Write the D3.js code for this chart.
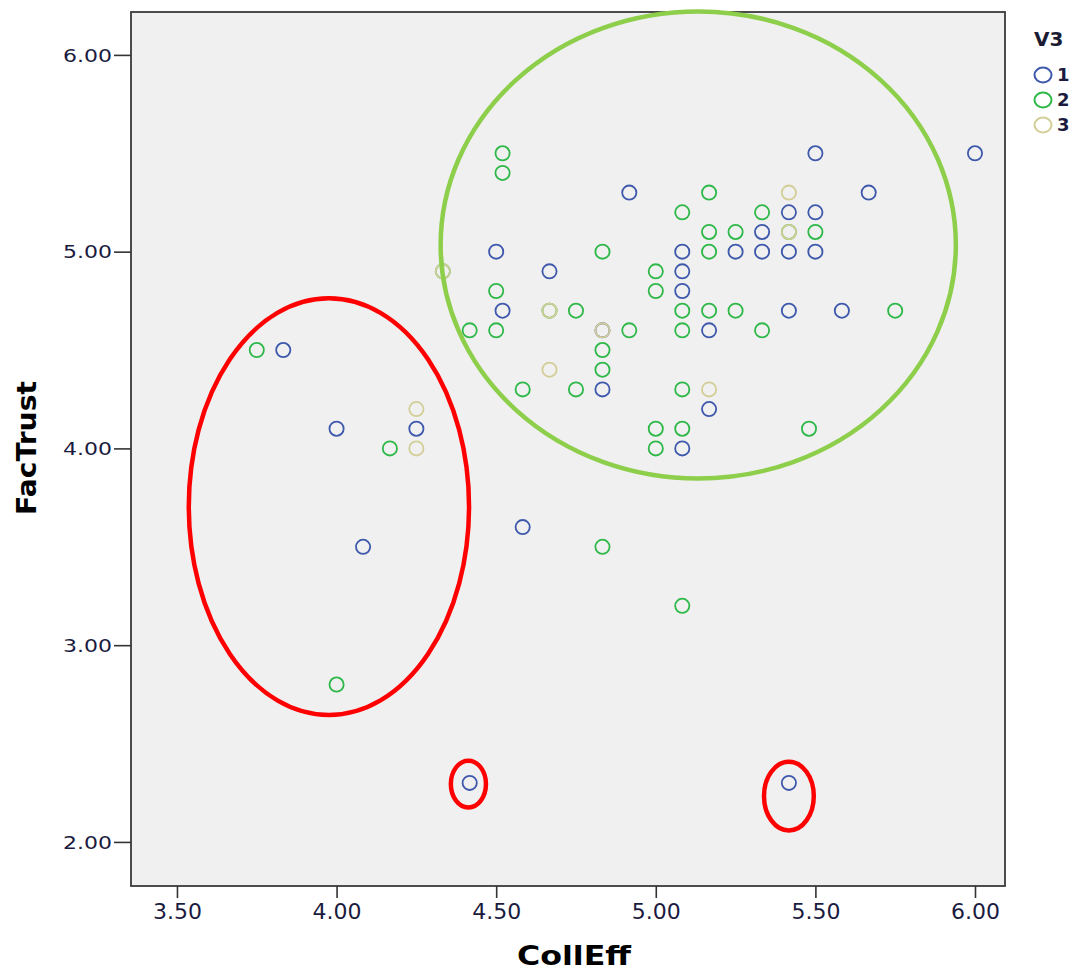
<!DOCTYPE html>
<html>
<head>
<meta charset="utf-8">
<script src="https://cdn.jsdelivr.net/npm/d3@7"></script>
<style>
  body { margin: 0; background: #fff; }
  svg { display: block; }
</style>
</head>
<body>
<div id="chart"></div>
<script>
// V3 = 1 (blue)
const group1 = [
  [3.833, 4.5], [4.0, 4.1], [4.25, 4.1], [4.083, 3.5], [4.417, 2.3], [5.417, 2.3], [4.583, 3.6],
  [4.917, 5.3], [4.5, 5.0], [5.083, 5.0], [4.667, 4.9], [5.083, 4.9], [5.083, 4.8], [4.52, 4.7],
  [5.5, 5.5], [6.0, 5.5], [5.667, 5.3], [5.417, 5.2], [5.5, 5.2], [5.333, 5.1], [5.25, 5.0],
  [5.333, 5.0], [5.417, 5.0], [5.5, 5.0], [5.417, 4.7], [5.583, 4.7], [5.167, 4.6], [4.833, 4.6],
  [4.833, 4.3], [5.167, 4.2], [5.083, 4.0]
];
// V3 = 2 (green)
const group2 = [
  [3.75, 4.5], [4.167, 4.0], [4.0, 2.8], [4.833, 3.5], [5.083, 3.2],
  [4.52, 5.5], [4.52, 5.4], [5.167, 5.3], [5.083, 5.2], [5.167, 5.1], [5.25, 5.1], [4.833, 5.0],
  [5.167, 5.0], [4.333, 4.9], [5.0, 4.9], [4.5, 4.8], [5.0, 4.8], [5.333, 5.2], [5.417, 5.1],
  [5.5, 5.1], [4.667, 4.7], [4.75, 4.7], [5.083, 4.7], [5.167, 4.7], [5.25, 4.7], [5.75, 4.7],
  [4.417, 4.6], [4.5, 4.6], [4.917, 4.6], [5.083, 4.6], [5.333, 4.6], [4.833, 4.5], [4.833, 4.4],
  [4.583, 4.3], [4.75, 4.3], [5.083, 4.3], [5.0, 4.1], [5.083, 4.1], [5.48, 4.1], [5.0, 4.0]
];
// V3 = 3 (tan)
const group3 = [
  [4.25, 4.2], [4.25, 4.0], [4.333, 4.9], [5.417, 5.3], [5.417, 5.1], [4.667, 4.7],
  [4.833, 4.6], [4.667, 4.4], [5.167, 4.3]
];

const groupNames = ["1", "2", "3"];
const groupColors = ["#3e58ac", "#2eb848", "#d3ce97"];

const xTicks = [3.5, 4.0, 4.5, 5.0, 5.5, 6.0];
const yTicks = [2.0, 3.0, 4.0, 5.0, 6.0];

// hand-drawn annotation ellipses, in data units: [cx, cy, rx, ry]
const greenRings = [[5.133, 5.034, 0.807, 1.187]];
const redRings = [
  [3.976, 3.704, 0.439, 1.059],
  [4.413, 2.294, 0.055, 0.119],
  [5.417, 2.233, 0.078, 0.175]
];

const W = 1076, H = 972;
const plot = { left: 131, right: 1005, top: 12, bottom: 886 };

const svg = d3.select("#chart")
  .append("svg")
  .attr("width", W)
  .attr("height", H);

const x = d3.scaleLinear().domain([3.356, 6.094]).range([plot.left, plot.right]);
const y = d3.scaleLinear().domain([1.776, 6.218]).range([plot.bottom, plot.top]);

// plot background + frame
svg.append("rect")
  .attr("x", plot.left)
  .attr("y", plot.top)
  .attr("width", plot.right - plot.left)
  .attr("height", plot.bottom - plot.top)
  .attr("fill", "#f0f0f0")
  .attr("stroke", "#3a3a3a")
  .attr("stroke-width", 1.8);

// x axis
const xAxis = svg.append("g")
  .attr("transform", `translate(0, ${plot.bottom})`)
  .call(d3.axisBottom(x).tickValues(xTicks).tickSize(12).tickSizeOuter(0).tickFormat(d3.format(".2f")));
xAxis.select(".domain").remove();
xAxis.selectAll("line").attr("stroke", "#333").attr("stroke-width", 1.6);
xAxis.selectAll("text")
  .attr("y", 17)
  .attr("fill", "#1b1b40")
  .style("font-family", "DejaVu Sans")
  .style("font-size", "22px");

// y axis
const yAxis = svg.append("g")
  .attr("transform", `translate(${plot.left}, 0)`)
  .call(d3.axisLeft(y).tickValues(yTicks).tickSize(17).tickSizeOuter(0).tickFormat(d3.format(".2f")));
yAxis.select(".domain").remove();
yAxis.selectAll("line").attr("stroke", "#333").attr("stroke-width", 1.6);
yAxis.selectAll("text")
  .attr("x", -19)
  .attr("dy", "0.36em")
  .attr("fill", "#1b1b40")
  .style("font-family", "DejaVu Sans")
  .style("font-size", "17px")
  .attr("textLength", 49)
  .attr("lengthAdjust", "spacingAndGlyphs");

// axis titles
svg.append("text")
  .attr("x", 574)
  .attr("y", 965)
  .attr("text-anchor", "middle")
  .style("font-family", "DejaVu Sans")
  .style("font-weight", "bold")
  .style("font-size", "26px")
  .attr("textLength", 114)
  .attr("lengthAdjust", "spacingAndGlyphs")
  .text("CollEff");

svg.append("text")
  .attr("transform", "translate(36, 448) rotate(-90)")
  .attr("text-anchor", "middle")
  .style("font-family", "DejaVu Sans")
  .style("font-weight", "bold")
  .style("font-size", "26px")
  .attr("textLength", 134)
  .attr("lengthAdjust", "spacingAndGlyphs")
  .text("FacTrust");

// points
const groups = [group1, group2, group3];
groups.forEach((pts, i) => {
  svg.append("g")
    .selectAll("circle")
    .data(pts)
    .join("circle")
    .attr("cx", (d) => x(d[0]))
    .attr("cy", (d) => y(d[1]))
    .attr("r", 7.1)
    .attr("fill", "none")
    .attr("stroke", groupColors[i])
    .attr("stroke-width", 1.8);
});

// annotation ellipses
const drawRings = (rings, color) => {
  svg.append("g")
    .selectAll("ellipse")
    .data(rings)
    .join("ellipse")
    .attr("cx", (d) => x(d[0]))
    .attr("cy", (d) => y(d[1]))
    .attr("rx", (d) => x(d[0] + d[2]) - x(d[0]))
    .attr("ry", (d) => y(d[1]) - y(d[1] + d[3]))
    .attr("fill", "none")
    .attr("stroke", color)
    .attr("stroke-width", 4.5);
};
drawRings(greenRings, "#8dce4b");
drawRings(redRings, "#ff0000");

// legend
const legend = svg.append("g").attr("transform", "translate(1034, 0)");
legend.append("text")
  .attr("x", 0)
  .attr("y", 46)
  .style("font-family", "DejaVu Sans")
  .style("font-weight", "bold")
  .style("font-size", "20px")
  .attr("fill", "#1b1b33")
  .text("V3");

const items = legend.selectAll("g.item")
  .data(groupNames)
  .join("g")
  .attr("class", "item")
  .attr("transform", (d, i) => `translate(0, ${75 + i * 25})`);

items.append("ellipse")
  .attr("cx", 9)
  .attr("cy", 0)
  .attr("rx", 8.5)
  .attr("ry", 7.5)
  .attr("fill", "none")
  .attr("stroke", (d, i) => groupColors[i])
  .attr("stroke-width", 2);

items.append("text")
  .attr("x", 23)
  .attr("y", 0)
  .attr("dy", "0.36em")
  .style("font-family", "DejaVu Sans")
  .style("font-weight", "bold")
  .style("font-size", "18px")
  .attr("fill", "#1b1b40")
  .text((d) => d);
</script>
</body>
</html>
